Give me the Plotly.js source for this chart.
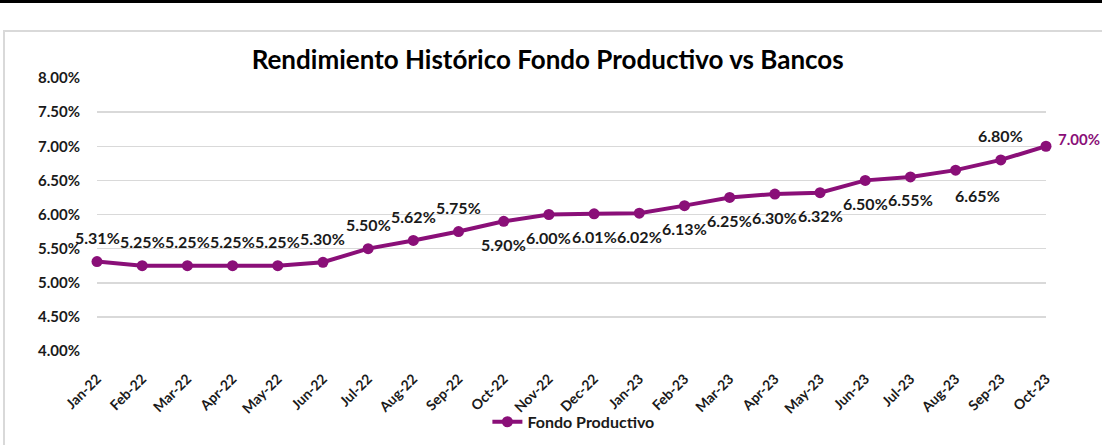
<!DOCTYPE html>
<html>
<head>
<meta charset="utf-8">
<script src="https://cdn.plot.ly/plotly-3.0.1.min.js"></script>
<style>
html,body{margin:0;padding:0;background:#fff;width:1102px;height:445px;overflow:hidden;}
#topbar{position:absolute;left:0;top:0;width:1102px;height:3px;background:#000;}
#frame{position:absolute;left:3px;top:30px;width:1110px;height:430px;border:2px solid #d9d9d9;box-sizing:border-box;}
#chart{position:absolute;left:0;top:0;width:1102px;height:445px;}
</style>
</head>
<body>
<div id="topbar"></div>
<div id="frame"></div>
<div id="chart"></div>
<script>
const months = ["Jan-22","Feb-22","Mar-22","Apr-22","May-22","Jun-22","Jul-22","Aug-22","Sep-22","Oct-22","Nov-22","Dec-22","Jan-23","Feb-23","Mar-23","Apr-23","May-23","Jun-23","Jul-23","Aug-23","Sep-23","Oct-23"];
const fondoProductivo = [5.31,5.25,5.25,5.25,5.25,5.30,5.50,5.62,5.75,5.90,6.00,6.01,6.02,6.13,6.25,6.30,6.32,6.50,6.55,6.65,6.80,7.00];
const labelPositions = ["top","top","top","top","top","top","top","top","top","bottom","bottom","bottom","bottom","bottom","bottom","bottom","bottom","bottom","bottom","bottom right","top","right"];
const yTicks = [4.0,4.5,5.0,5.5,6.0,6.5,7.0,7.5,8.0];

const purple = "#8a0f78";
const FONT = "Lato, 'Open Sans', sans-serif";

const trace = {
  x: months,
  y: fondoProductivo,
  type: "scatter",
  mode: "lines+markers",
  name: "Fondo Productivo",
  line: {color: purple, width: 4},
  marker: {color: purple, size: 11},
  cliponaxis: false,
  hoverinfo: "x+y"
};

const annotations = months.map((m, i) => {
  const pos = labelPositions[i];
  const a = {
    x: m, y: fondoProductivo[i], xref: "x", yref: "y",
    text: "<b>" + fondoProductivo[i].toFixed(2) + "%</b>",
    showarrow: false,
    font: {family: FONT, size: 16, color: "#1a1a1a"},
    xanchor: "center", yanchor: "middle",
    xshift: 0, yshift: 0
  };
  if (pos === "top") { a.yshift = 24; }
  else if (pos === "bottom") { a.yshift = -23; }
  else if (pos === "bottom right") { a.yshift = -25; a.xshift = 22; }
  else if (pos === "right") { a.xanchor = "left"; a.xshift = 10; a.yshift = 7; a.font.color = purple; a.font.size = 15; }
  return a;
});

const layout = {
  width: 1102,
  height: 445,
  margin: {l: 97, r: 56, t: 78, b: 94},
  paper_bgcolor: "rgba(0,0,0,0)",
  plot_bgcolor: "rgba(0,0,0,0)",
  font: {family: FONT, color: "#1a1a1a"},
  title: {
    text: "<b>Rendimiento Histórico Fondo Productivo vs Bancos</b>",
    font: {family: FONT, size: 26, color: "#000"},
    x: 0.497, xanchor: "center",
    y: 0.865, yanchor: "middle"
  },
  xaxis: {
    type: "category",
    range: [0, months.length - 1],
    tickangle: -45,
    tickfont: {size: 14, color: "#1a1a1a", weight: "bold"},
    showgrid: false,
    zeroline: false,
    showline: false,
    ticks: "",
    ticklabelstandoff: 16,
    automargin: false,
    fixedrange: true
  },
  yaxis: {
    range: [4, 8],
    tickvals: yTicks,
    ticktext: yTicks.map(v => v.toFixed(2) + "%"),
    tickfont: {size: 15, color: "#1a1a1a", weight: "bold"},
    showgrid: true,
    gridcolor: "#d9d9d9",
    gridwidth: 1.5,
    zeroline: false,
    showline: false,
    ticks: "",
    ticklabelstandoff: 16,
    automargin: false,
    fixedrange: true
  },
  annotations: annotations,
  showlegend: true,
  legend: {
    orientation: "h",
    x: 0.502, xanchor: "center",
    yref: "container",
    y: 0.052, yanchor: "middle",
    font: {size: 16, color: "#1a1a1a", weight: "bold"},
    bgcolor: "rgba(0,0,0,0)"
  }
};

Plotly.newPlot("chart", [trace], layout, {displayModeBar: false, staticPlot: true});
</script>
</body>
</html>
